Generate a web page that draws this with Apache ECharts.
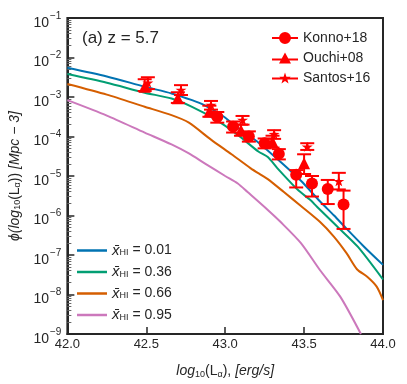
<!DOCTYPE html>
<html>
<head>
<meta charset="utf-8">
<script src="https://cdn.jsdelivr.net/npm/echarts@6/dist/echarts.min.js"></script>
<style>
  html, body { margin: 0; padding: 0; background: #fff; }
  #chart { width: 407px; height: 384px; }
</style>
</head>
<body>
<div id="chart"></div>
<script>
// model curves: [log10 L, log10 phi]
const xhi001 = [[42.0,-2.26],[42.25,-2.48],[42.49,-2.74],[42.66,-2.91],[42.79,-3.08],[42.87,-3.21],[42.975,-3.45],[43.08,-3.78],[43.21,-4.15],[43.35,-4.64],[43.48,-5.12],[43.60,-5.64],[43.69,-6.00],[43.77,-6.34],[43.88,-6.79],[44.0,-7.25]];
const xhi036 = [[42.0,-2.42],[42.25,-2.64],[42.49,-2.89],[42.66,-3.04],[42.79,-3.25],[42.93,-3.55],[43.08,-3.96],[43.21,-4.38],[43.27,-4.52],[43.33,-4.80],[43.46,-5.35],[43.54,-5.61],[43.58,-5.77],[43.71,-6.28],[43.84,-6.79],[44.0,-7.62]];
const xhi066 = [[42.0,-2.67],[42.25,-2.94],[42.49,-3.245],[42.66,-3.46],[42.77,-3.65],[42.91,-4.08],[43.04,-4.45],[43.16,-4.80],[43.23,-4.98],[43.27,-5.08],[43.37,-5.40],[43.48,-5.76],[43.60,-6.16],[43.69,-6.54],[43.77,-6.96],[43.835,-7.36],[43.90,-7.55],[43.96,-7.80],[44.0,-8.14]];
const xhi095 = [[42.0,-3.08],[42.25,-3.47],[42.49,-3.90],[42.66,-4.20],[42.77,-4.43],[42.87,-4.68],[43.0,-5.0],[43.08,-5.19],[43.14,-5.40],[43.27,-5.86],[43.35,-6.16],[43.48,-6.70],[43.60,-7.38],[43.73,-8.06],[43.86,-9.0]];

// observations
const konnoL   = [42.95, 43.05, 43.15, 43.25, 43.34, 43.45, 43.55, 43.65, 43.75];
const konnoPhi = [-3.50, -3.75, -4.00, -4.17, -4.44, -4.97, -5.19, -5.33, -5.72];
const konnoLo  = [-3.65, -3.90, -4.13, -4.30, -4.58, -5.29, -5.52, -5.71, -6.34];
const konnoHi  = [-3.38, -3.62, -3.87, -4.05, -4.32, -4.85, -5.00, -5.10, -5.37];

const ouchiL   = [42.49, 42.70, 42.90, 43.10, 43.30, 43.50];
const ouchiPhi = [-2.74, -3.03, -3.37, -3.84, -4.13, -4.68];
const ouchiLo  = [-2.85, -3.15, -3.50, -3.98, -4.28, -4.95];
const ouchiHi  = [-2.55, -2.88, -3.22, -3.70, -3.98, -4.45];

const santosL   = [42.51, 42.72, 42.91, 43.11, 43.31, 43.52, 43.72];
const santosPhi = [-2.64, -2.82, -3.20, -3.58, -3.94, -4.26, -5.13];
const santosLo  = [-2.80, -2.95, -3.32, -3.70, -4.06, -4.34, -5.34];
const santosHi  = [-2.50, -2.70, -3.10, -3.48, -3.84, -4.17, -4.92];

const xTicks = [42.0, 42.5, 43.0, 43.5, 44.0];
const yDecades = [-9, -8, -7, -6, -5, -4, -3, -2, -1];

const RED = '#ff0000';
const INK = '#262626';
const FONT = 'Liberation Sans, Arial, sans-serif';

const starPath = 'path://M13,0 L14.41,4.06 L18.71,4.15 L15.28,6.74 L16.53,10.85 L13,8.4 L9.47,10.85 L10.72,6.74 L7.29,4.15 L11.59,4.06 Z';
const iconCircle = 'path://M0,5 L26,5 L26,7 L0,7 Z M13,0 A6,6 0 1 1 13,12 A6,6 0 1 1 13,0 Z';
const iconTri = 'path://M0,6 L26,6 L26,8 L0,8 Z M13,0 L19,11 L7,11 Z';
const iconStar = 'path://M0,5 L26,5 L26,7 L0,7 Z M13,0 L14.41,4.06 L18.71,4.15 L15.28,6.74 L16.53,10.85 L13,8.4 L9.47,10.85 L10.72,6.74 L7.29,4.15 L11.59,4.06 Z';
const iconLine = 'path://M0,0 L30,0 L30,2.5 L0,2.5 Z';

// minor log ticks
const minorTicks = [];
for (let n = -9; n < -1; n++) {
  for (let k = 2; k <= 9; k++) minorTicks.push(n + Math.log10(k));
}

function pts(xs, ys) { return xs.map((x, i) => [x, ys[i]]); }

function errBars(name, xs, lo, hi) {
  return {
    name: name,
    type: 'custom',
    z: 3,
    renderItem: function (params, api) {
      const a = api.coord([api.value(0), api.value(1)]);
      const b = api.coord([api.value(0), api.value(2)]);
      const w = 7;
      const st = { stroke: RED, lineWidth: 2 };
      return {
        type: 'group',
        children: [
          { type: 'line', shape: { x1: a[0], y1: a[1], x2: b[0], y2: b[1] }, style: st },
          { type: 'line', shape: { x1: a[0] - w, y1: a[1], x2: a[0] + w, y2: a[1] }, style: st },
          { type: 'line', shape: { x1: b[0] - w, y1: b[1], x2: b[0] + w, y2: b[1] }, style: st }
        ]
      };
    },
    encode: { x: 0, y: [1, 2] },
    data: xs.map((x, i) => [x, lo[i], hi[i]])
  };
}

function curve(name, color, data) {
  return {
    name: name, type: 'line', data: data, symbol: 'none', smooth: 0.25,
    lineStyle: { color: color, width: 2 }, itemStyle: { color: color }, z: 2
  };
}

const chart = echarts.init(document.getElementById('chart'));
chart.setOption({
  animation: false,
  backgroundColor: '#fff',
  textStyle: { fontFamily: FONT },
  title: {
    text: '(a) z = 5.7', left: 82, top: 30, padding: 0,
    textStyle: { fontSize: 17, fontWeight: 'normal', color: INK, fontFamily: FONT }
  },
  grid: { left: 65, right: 24, top: 18, bottom: 50, show: true, borderColor: INK, borderWidth: 2 },
  legend: [
    {
      data: [
        { name: 'Konno+18', icon: iconCircle },
        { name: 'Ouchi+08', icon: iconTri },
        { name: 'Santos+16', icon: iconStar }
      ],
      orient: 'vertical', left: 272, top: 31, padding: 0,
      itemWidth: 26, itemHeight: 12, itemGap: 6,
      textStyle: { fontSize: 14, color: INK, fontFamily: FONT }
    },
    {
      data: [
        { name: '0.01', icon: iconLine },
        { name: '0.36', icon: iconLine },
        { name: '0.66', icon: iconLine },
        { name: '0.95', icon: iconLine }
      ],
      orient: 'vertical', left: 77, top: 243, padding: 0,
      itemWidth: 30, itemHeight: 14, itemGap: 6.5,
      formatter: v => '{i|x̄}{s|HI}{n| = ' + v + '}',
      textStyle: {
        color: INK, fontFamily: FONT,
        rich: {
          i: { fontSize: 15, fontStyle: 'italic', color: INK, fontFamily: FONT },
          s: { fontSize: 9, color: INK, fontFamily: FONT, padding: [5, 0, 0, 0] },
          n: { fontSize: 14, color: INK, fontFamily: FONT }
        }
      }
    }
  ],
  xAxis: {
    type: 'value', min: 42, max: 44, interval: 0.5,
    name: '{i|log}{sub|10}{n|(L}{sub|α}{n|), }{i|[erg/s]}',
    nameLocation: 'middle', nameGap: 30,
    nameTextStyle: {
      rich: {
        i: { fontSize: 14, fontStyle: 'italic', color: INK, fontFamily: FONT },
        n: { fontSize: 14, color: INK, fontFamily: FONT },
        sub: { fontSize: 9, color: INK, fontFamily: FONT, padding: [6, 0, 0, 0] }
      }
    },
    axisLine: { show: true, lineStyle: { color: INK, width: 2 } },
    axisTick: { inside: true, length: 7, lineStyle: { color: INK, width: 1.5 } },
    axisLabel: {
      margin: 4, fontSize: 13, color: INK, fontFamily: FONT,
      formatter: v => xTicks.indexOf(v) >= 0 ? v.toFixed(1) : ''
    },
    splitLine: { show: false }
  },
  yAxis: [
    {
      type: 'value', min: -9, max: -1, interval: 1,
      name: '{i|ϕ(log}{sub|10}{n|(L}{sub|α}{n|)) }{i|[Mpc − 3]}',
      nameLocation: 'middle', nameRotate: 90, nameGap: 41,
      nameTextStyle: {
        rich: {
          i: { fontSize: 14, fontStyle: 'italic', color: INK, fontFamily: FONT },
          n: { fontSize: 14, color: INK, fontFamily: FONT },
          sub: { fontSize: 9, color: INK, fontFamily: FONT, padding: [6, 0, 0, 0] }
        }
      },
      axisLine: { show: true, lineStyle: { color: INK, width: 2 } },
      axisTick: { inside: true, length: 7, lineStyle: { color: INK, width: 1.5 } },
      axisLabel: {
        margin: 6, color: INK, fontFamily: FONT,
        showMinLabel: true, showMaxLabel: true,
        formatter: v => yDecades.indexOf(v) >= 0 ? '{b|10}{s|−' + (-v) + '}' : '',
        rich: {
          b: { fontSize: 14, color: INK, fontFamily: FONT, padding: [10, 0, 0, 0] },
          s: { fontSize: 10, color: INK, fontFamily: FONT, padding: [0, 0, 4, 1] }
        }
      },
      splitLine: { show: false }
    },
    {
      type: 'value', min: -9, max: -1, position: 'left',
      axisLine: { show: false },
      axisLabel: { show: false },
      splitLine: { show: false },
      axisTick: { show: true, inside: true, length: 4, customValues: minorTicks, lineStyle: { color: '#666', width: 1 } }
    }
  ],
  series: [
    curve('0.01', '#0173b2', xhi001),
    curve('0.36', '#029e73', xhi036),
    curve('0.66', '#d55e00', xhi066),
    curve('0.95', '#cc78bc', xhi095),
    errBars('konnoErr', konnoL, konnoLo, konnoHi),
    errBars('ouchiErr', ouchiL, ouchiLo, ouchiHi),
    errBars('santosErr', santosL, santosLo, santosHi),
    { name: 'Konno+18', type: 'scatter', symbol: 'circle', symbolSize: 12, z: 4,
      itemStyle: { color: RED, opacity: 1 }, data: pts(konnoL, konnoPhi) },
    { name: 'Ouchi+08', type: 'scatter', symbol: 'triangle', symbolSize: 12, z: 4,
      itemStyle: { color: RED, opacity: 1 }, data: pts(ouchiL, ouchiPhi) },
    { name: 'Santos+16', type: 'scatter', symbol: starPath, symbolSize: [11, 10], z: 4,
      itemStyle: { color: RED, opacity: 1 }, data: pts(santosL, santosPhi) }
  ]
});
</script>
</body>
</html>
